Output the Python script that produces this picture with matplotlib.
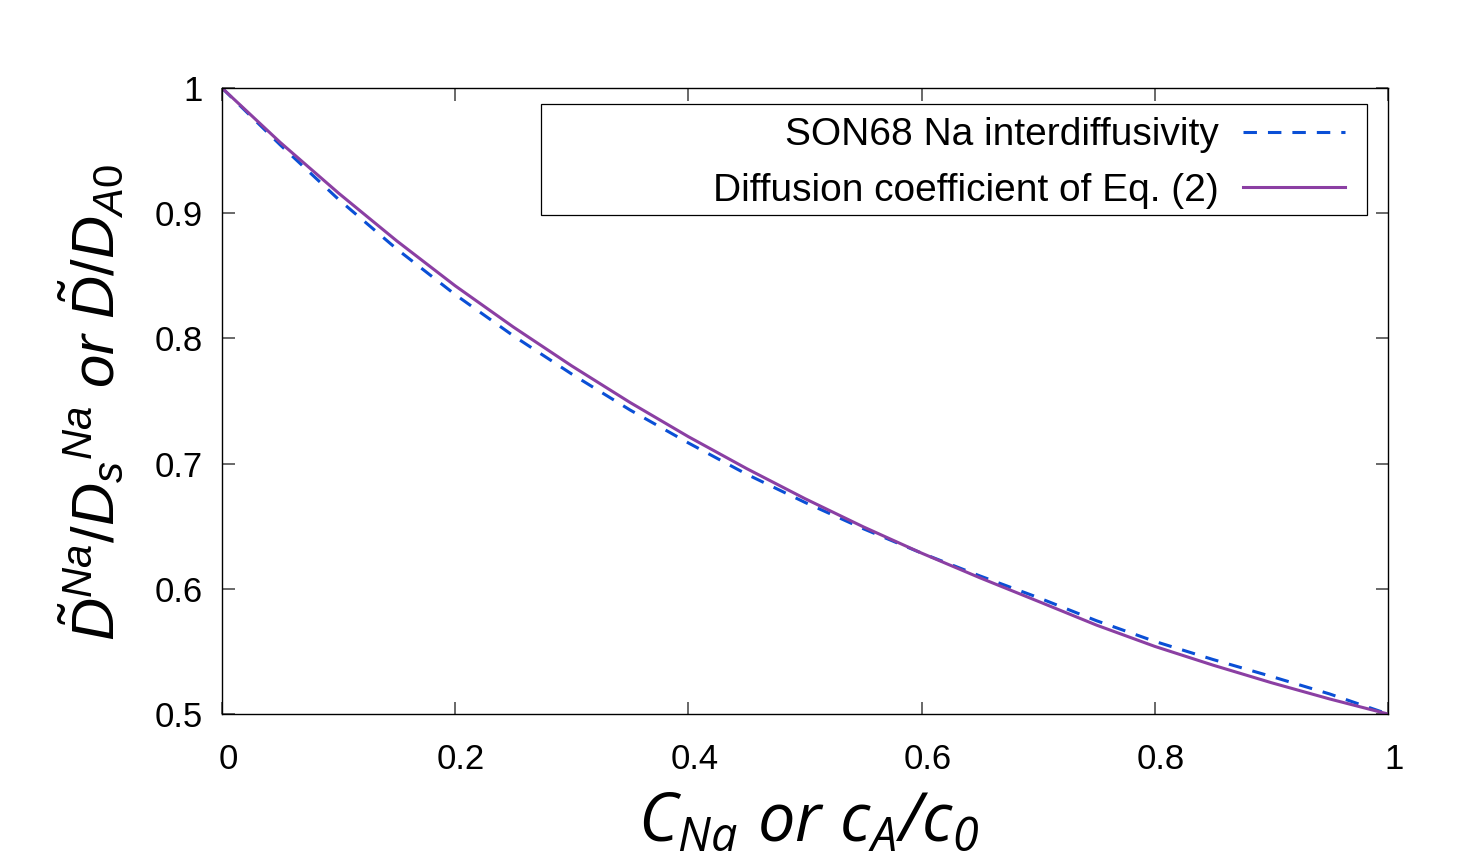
import matplotlib
matplotlib.use('Agg')
import matplotlib.pyplot as plt
from matplotlib.patches import Rectangle
from matplotlib.transforms import ScaledTranslation

plt.rcParams['font.family'] = ['Liberation Sans', 'DejaVu Sans']
plt.rcParams['mathtext.fontset'] = 'custom'
plt.rcParams['mathtext.rm'] = 'Liberation Sans'
plt.rcParams['mathtext.it'] = 'Liberation Sans:italic'
plt.rcParams['mathtext.sf'] = 'Open Sans:italic'

# normalised concentration
conc = [0.00, 0.05, 0.10, 0.15, 0.20, 0.25, 0.30, 0.35, 0.40, 0.45, 0.50,
        0.55, 0.60, 0.65, 0.70, 0.75, 0.80, 0.85, 0.90, 0.95, 1.00]

# SON68 Na interdiffusivity (normalised)
d_son68 = [1.000, 0.9545, 0.911, 0.8713, 0.835, 0.802, 0.7715, 0.7428, 0.7165, 0.6915, 0.669,
           0.648, 0.6285, 0.6103, 0.593, 0.5745, 0.558, 0.5435, 0.530, 0.516, 0.500]

# diffusion coefficient from Eq. (2)
d_eq2 = [1.000, 0.9565, 0.916, 0.8778, 0.842, 0.809, 0.778, 0.7488, 0.7215, 0.696, 0.672,
         0.6495, 0.6285, 0.6088, 0.590, 0.571, 0.554, 0.539, 0.525, 0.512, 0.500]

xticks = [0, 0.2, 0.4, 0.6, 0.8, 1.0]
xtick_labels = ['0', '0.2', '0.4', '0.6', '0.8', '1']
yticks = [0.5, 0.6, 0.7, 0.8, 0.9, 1.0]
ytick_labels = ['0.5', '0.6', '0.7', '0.8', '0.9', '1']

fig = plt.figure(figsize=(14.64, 8.55), dpi=100)
ax = fig.add_axes([0.15164, 0.16491, 0.79645, 0.73216])

l1, = ax.plot(conc, d_son68, color='#0a4fd6', lw=2.2, dashes=(4.4, 3.6),
              label='SON68 Na interdiffusivity')
l2, = ax.plot(conc, d_eq2, color='#8b3fa3', lw=2.2,
              label='Diffusion coefficient of Eq. (2)')

ax.set_xlim(0, 1)
ax.set_ylim(0.5, 1)
ax.set_xticks(xticks, xtick_labels)
ax.set_yticks(yticks, ytick_labels)
ax.tick_params(direction='in', length=9, width=1.1, color='#404040',
               top=True, right=True, labelsize=25)
ax.tick_params(axis='x', pad=21)
ax.tick_params(axis='y', pad=14)
for s in ax.spines.values():
    s.set_linewidth(1.0)

# x tick labels sit a little right of their ticks
shift = ScaledTranslation(0.06, 0, fig.dpi_scale_trans)
for lab in ax.get_xticklabels():
    lab.set_transform(lab.get_transform() + shift)

ax.set_ylabel(r'$\tilde{D}^{Na}/D_s{}^{Na}\ or\ \tilde{D}/D_{A0}$', fontsize=43)
ax.yaxis.set_label_coords(-0.082, 0.498)
ax.set_xlabel(r'$\mathsf{C}_{\mathsf{Na}}\ \mathsf{or}\ \mathsf{c}_{\mathsf{A}}\mathsf{/c}_{\mathsf{0}}$', fontsize=48)
ax.xaxis.set_label_coords(0.5034, -0.124)

# key box
ax.add_patch(Rectangle((0.27358, 0.79712), 0.70840, 0.17732, transform=ax.transAxes,
                       fill=False, ec='black', lw=0.9, zorder=5, clip_on=False))
ax.legend(handles=[l1, l2], loc='upper right', bbox_to_anchor=(0.980, 0.984),
          markerfirst=False, frameon=False, borderpad=0, handlelength=2.62,
          handletextpad=0.62, labelspacing=0.5,
          prop={'family': ['Liberation Sans'], 'size': 28})

fig.savefig('out.png', dpi=100)
